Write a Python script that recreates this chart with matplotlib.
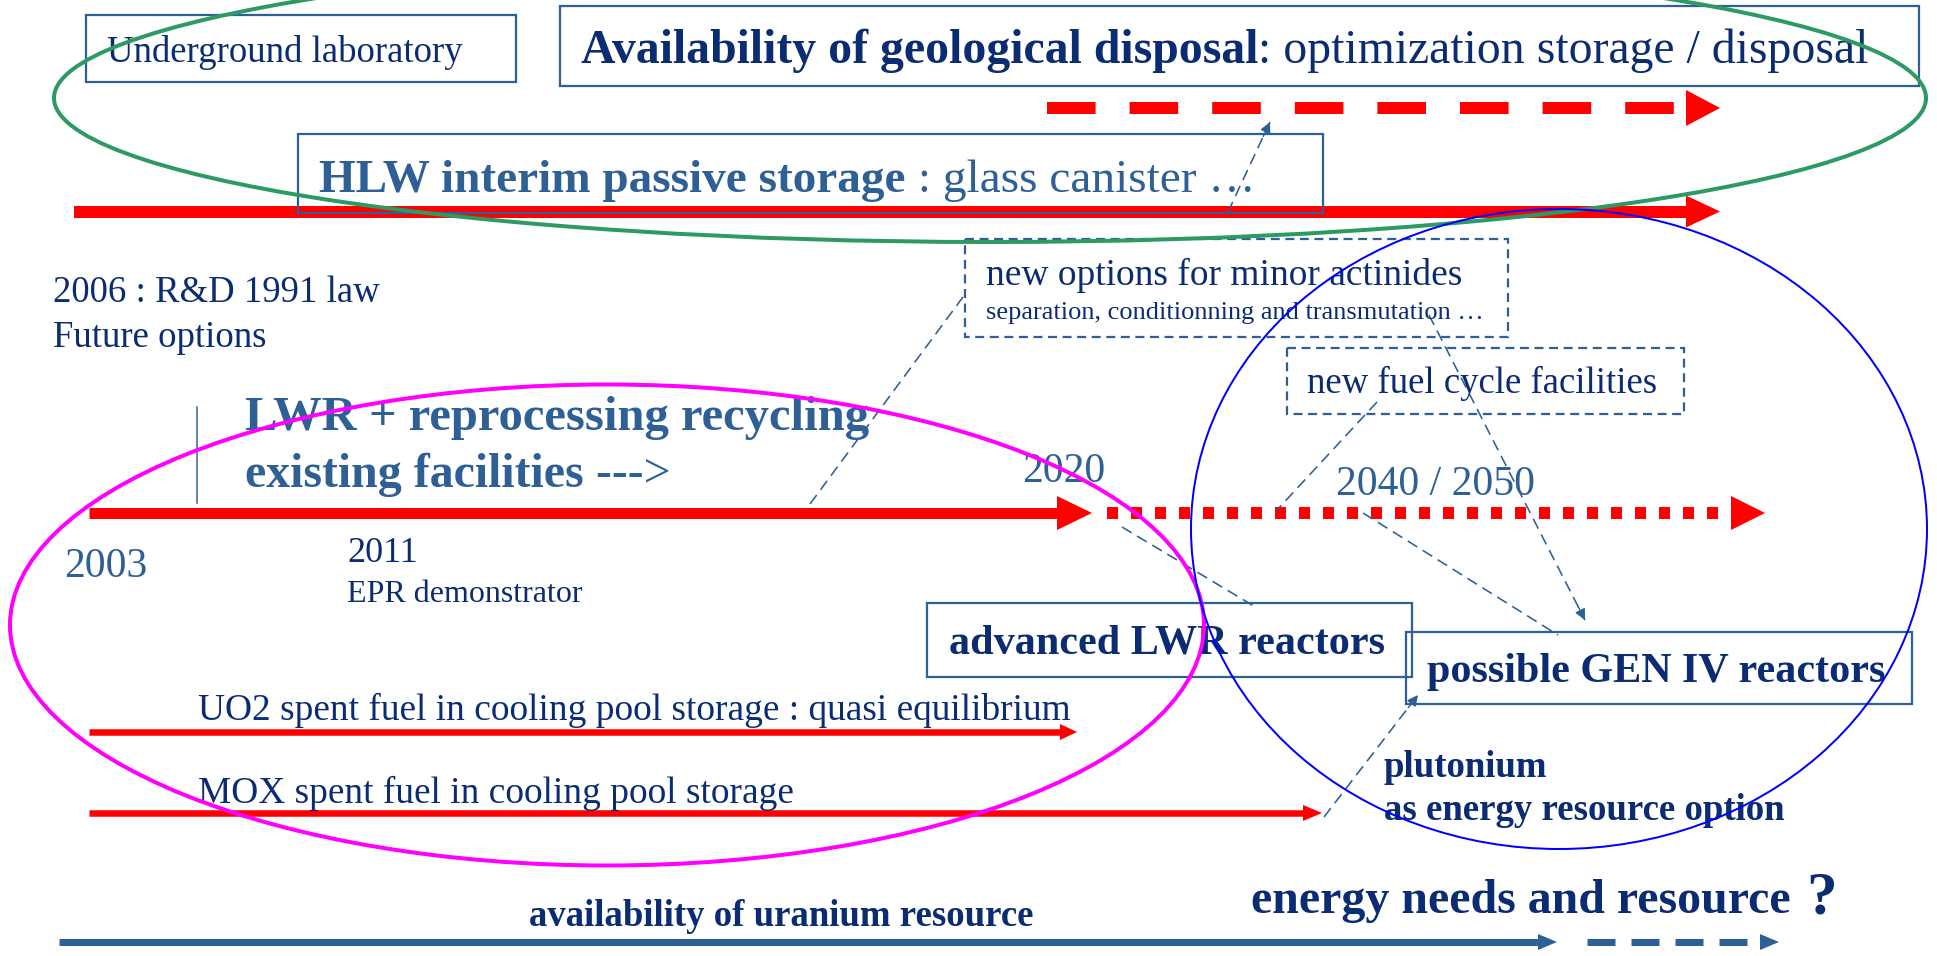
import matplotlib
matplotlib.use("Agg")
import matplotlib.pyplot as plt
from matplotlib.patches import Ellipse, Rectangle, Polygon

plt.rcParams['font.family'] = ['Liberation Serif', 'DejaVu Serif']

W, H = 1937, 956
PX = 0.72          # points per pixel at dpi 100
navy = "#0b2c72"
steel = "#2e6096"
red = "#ff0000"

# ---- labels -------------------------------------------------------------
years = ["2003", "2011", "2020", "2040 / 2050"]
year_x = [64, 347, 1022, 1336]
year_y = [577, 562, 482, 495]
year_size = [30, 26, 30, 30]
year_color = [steel, navy, steel, steel]

boxes = ["Underground laboratory", "new fuel cycle facilities"]
streams = ["UO2 spent fuel in cooling pool storage : quasi equilibrium",
           "MOX spent fuel in cooling pool storage"]

# timeline arrows: start, end, level
arrow_x0 = [1047, 74, 89, 1107, 89, 89, 59, 1587]
arrow_x1 = [1720, 1720, 1092, 1765, 1077, 1322, 1557, 1779]
arrow_y = [108, 211.5, 513, 513, 732, 813, 942, 942]

# dashed connectors: from, to, with head
link_from = [(810, 504), (1429, 315), (1377, 402), (1122, 527),
             (1363, 513), (1228, 212), (1324, 817)]
link_to = [(963, 297), (1585, 620), (1277, 510), (1257, 608),
           (1558, 635), (1270, 122), (1418, 695)]
link_head = [False, True, False, False, False, True, True]

fig = plt.figure(figsize=(W / 100, H / 100), dpi=100)
ax = fig.add_axes([0, 0, 1, 1])
ax.set_xlim(0, W)
ax.set_ylim(H, 0)
ax.axis('off')
renderer = fig.canvas.get_renderer()


def txt(x, y, s, size, color, weight='normal'):
    t = ax.text(x, y, s, fontsize=size, color=color, fontweight=weight,
                ha='left', va='baseline', zorder=3)
    bb = t.get_window_extent(renderer)
    return ax.transData.inverted().transform((bb.x1, bb.y0))[0]


def box(x0, y0, x1, y1, dashed=False):
    ax.add_patch(Rectangle((x0, y0), x1 - x0, y1 - y0, fill=False,
                           ec=steel, lw=1.6 * PX * 1.4,
                           ls=(0, (4, 2.5)) if dashed else '-', zorder=2))


def arrow(x0, x1, y, thick, hlen, half, color, dashes=None):
    kw = dict(color=color, lw=thick * PX, solid_capstyle='butt',
              dash_capstyle='butt', zorder=1)
    if dashes:
        kw['dashes'] = (dashes[0] / thick, dashes[1] / thick)
    ax.plot([x0, x1 - hlen], [y, y], **kw)
    ax.add_patch(Polygon([[x1 - hlen, y - half], [x1, y], [x1 - hlen, y + half]],
                         closed=True, fc=color, ec='none', zorder=1))


# ---- boxes ----------------------------------------------------------------
box(86, 15, 516, 82)
box(560, 6, 1919, 86)
box(298, 134, 1323, 213)
box(965, 239, 1508, 337, dashed=True)
box(1287, 348, 1684, 414, dashed=True)
box(927, 603, 1412, 677)
box(1406, 632, 1912, 704)

# ---- arrows ---------------------------------------------------------------
thick = [12, 12, 11, 12, 6.5, 6.5, 7, 7]
hlen = [34, 34, 35, 34, 17, 19, 19, 19]
half = [18, 16, 17, 17, 8, 8, 8, 8]
acol = [red] * 6 + [steel] * 2
dash = [(48.6, 34), None, None, (11, 13), None, None, None, (28, 16)]
for i in range(len(arrow_x0)):
    arrow(arrow_x0[i], arrow_x1[i], arrow_y[i], thick[i], hlen[i], half[i],
          acol[i], dash[i])

ax.plot([197, 197], [407, 503], color=steel, lw=1.5 * PX, zorder=1)

for (a, b, head) in zip(link_from, link_to, link_head):
    ax.plot([a[0], b[0]], [a[1], b[1]], color=steel, lw=1.6 * PX,
            dashes=(7, 4), zorder=2)
    if head:
        dx, dy = b[0] - a[0], b[1] - a[1]
        n = (dx ** 2 + dy ** 2) ** 0.5
        ax.annotate('', xy=b, xytext=(b[0] - dx / n * 16, b[1] - dy / n * 16),
                    arrowprops=dict(arrowstyle='-|>', color=steel, lw=1.0,
                                    mutation_scale=16, shrinkA=0, shrinkB=0),
                    zorder=2)

# ---- text -----------------------------------------------------------------
txt(107, 62, boxes[0], 26.5, navy)
e = txt(581, 63, "Availability of geological disposal", 34.4, navy, 'bold')
txt(e, 63, ": optimization storage / disposal", 34.4, navy)
e = txt(319, 192, "HLW interim passive storage", 34, steel, 'bold')
txt(e, 192, " : glass canister \u2026", 34, steel)

txt(53, 302, "2006 : R&D 1991 law", 26.5, navy)
txt(53, 347, "Future options", 26.5, navy)
txt(245, 430, "LWR + reprocessing recycling", 35, steel, 'bold')
e = txt(245, 487, "existing facilities", 34.5, steel, 'bold')
txt(e, 487, " --->", 34.5, steel)

for s, x, y, fs, c in zip(years, year_x, year_y, year_size, year_color):
    txt(x, y, s, fs, c)
txt(347, 602, "EPR demonstrator", 23, navy)

txt(986, 285, "new options for minor actinides", 27, navy)
txt(986, 319, "separation, conditionning and transmutation \u2026", 19, navy)
txt(1307, 393, boxes[1], 26.5, navy)

txt(949, 653, "advanced LWR reactors", 30.3, navy, 'bold')
txt(1427, 682, "possible GEN IV reactors", 30.3, navy, 'bold')

txt(198, 720, streams[0], 26.9, navy)
txt(198, 803, streams[1], 26.9, navy)
txt(1384, 777, "plutonium", 26.5, navy, 'bold')
txt(1384, 820, "as energy resource option", 26.5, navy, 'bold')

txt(1251, 913, "energy needs and resource", 34.5, navy, 'bold')
txt(1806, 913, "?", 44, navy, 'bold')
txt(529, 926, "availability of uranium resource", 26.5, navy, 'bold')

# ---- ellipses -------------------------------------------------------------
ax.add_patch(Ellipse((990, 98), 1872, 288, fill=False, ec="#2e9a63",
                     lw=4 * PX, zorder=4))
ax.add_patch(Ellipse((607, 625), 1194, 481, fill=False, ec="#ff00ff",
                     lw=4 * PX, zorder=4))
ax.add_patch(Ellipse((1559, 529), 736, 640, fill=False, ec="#0000ff",
                     lw=2 * PX, zorder=4))

fig.savefig("out.png", dpi=100)
